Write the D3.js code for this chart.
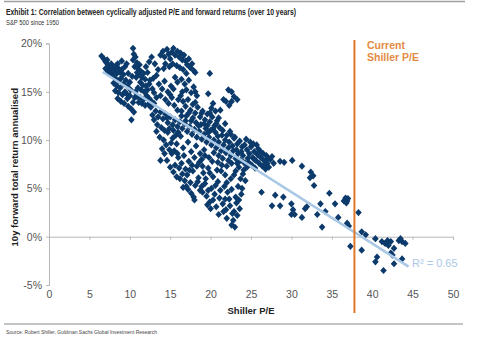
<!DOCTYPE html>
<html>
<head>
<meta charset="utf-8">
<script src="https://cdn.jsdelivr.net/npm/d3@7"></script>
<style>
  html, body { margin: 0; padding: 0; background: #fff; }
  svg { display: block; }
  text { font-family: "Liberation Sans", Arial, sans-serif; }
</style>
</head>
<body>
<svg id="chart" width="494" height="346"></svg>
<script>
// ---------------- data ----------------
const titleText = "Exhibit 1: Correlation between cyclically adjusted P/E and forward returns (over 10 years)";
const subtitleText = "S&P 500 since 1950";
const sourceText = "Source: Robert Shiller, Goldman Sachs Global Investment Research";
const xAxisTitle = "Shiller P/E";
const yAxisTitle = "10y forward total return annualised";
const xTicks = [0, 5, 10, 15, 20, 25, 30, 35, 40, 45, 50];
const yTicks = [-5, 0, 5, 10, 15, 20];
const currentPE = 37.8;
const currentLabel = ["Current", "Shiller P/E"];
const trendPE = [6.65, 44.5];
const trendReturn = [17.05, -3.1];
const r2Label = "R\u00B2 = 0.65";

// [Shiller P/E, 10y forward annualised return %]
const scatterPoints = [
  // low P/E, high return band
  [6.5,18.7],[6.8,18.4],[7.0,18.1],[7.2,18.3],[7.3,17.8],[7.5,17.5],[7.7,17.9],[7.9,17.6],[8.1,17.2],[8.3,17.7],
  [8.5,17.9],[8.6,17.4],[8.8,17.0],[9.0,17.3],[9.2,16.8],[8.9,16.4],[8.6,16.1],[8.2,16.4],[7.9,16.8],[7.6,16.9],
  [7.3,17.1],[8.0,15.9],[8.4,15.6],[8.8,15.4],[9.2,15.8],[9.5,16.2],[9.7,15.6],[9.4,15.0],[9.1,14.7],[8.6,14.9],
  [8.2,15.1],[8.5,14.3],[8.9,14.0],[9.3,13.8],[9.7,14.3],[10.0,14.6],[9.8,13.5],[10.2,13.2],[10.5,12.9],[10.2,12.1],
  [9.0,18.2],[9.4,17.6],[9.8,16.9],[10.0,16.0],[9.6,17.9],[7.0,17.4],[7.8,17.1],[8.4,16.9],[9.6,14.8],[10.4,13.9],
  // column around P/E 10-13
  [10.4,19.5],[10.5,18.9],[10.4,18.3],[10.7,18.6],[10.9,18.0],[10.6,17.6],[11.0,17.4],[11.2,17.8],[11.4,17.1],[11.1,16.8],
  [10.8,16.5],[11.5,16.5],[11.7,16.9],[11.9,16.3],[11.3,16.0],[11.6,15.7],[12.0,15.6],[12.2,15.2],[11.8,15.0],[11.4,15.2],
  [11.0,15.4],[10.7,15.0],[10.9,14.5],[11.3,14.4],[11.7,14.2],[12.1,14.6],[12.4,14.3],[12.7,14.0],[12.3,13.7],[11.9,13.6],
  [11.5,13.8],[11.1,13.9],[12.6,13.4],[13.0,13.8],[13.3,14.4],[13.0,14.9],[12.8,15.3],[13.3,16.7],[12.5,16.2],[12.2,17.0],
  [13.6,15.8],[14.0,15.3],[14.3,16.1],[14.7,15.0],[15.1,15.6],[15.6,16.5],[13.8,14.6],[14.4,14.2],[15.0,14.7],[12.0,17.6],
  [10.6,14.4],[10.1,15.2],[10.3,16.6],[10.9,17.0],[12.4,15.8],[12.9,16.4],[13.5,17.3],[13.1,17.9],[12.7,18.6],[12.4,18.1],
  // top cluster P/E 14-18
  [13.8,18.8],[14.1,19.2],[14.3,18.6],[14.6,19.4],[14.8,18.9],[15.0,18.4],[15.2,19.1],[15.4,19.5],[15.6,18.8],[15.9,19.2],
  [16.1,18.6],[16.3,19.0],[16.5,18.3],[16.7,18.8],[16.9,18.2],[17.1,17.8],[17.3,18.4],[17.5,17.5],[17.7,17.9],[17.9,17.2],
  [18.1,17.0],[14.4,17.9],[14.9,17.6],[15.3,17.9],[15.8,17.7],[16.2,17.5],[16.6,17.3],[17.0,16.9],[17.3,16.2],[14.2,17.4],
  [16.4,16.3],[16.8,15.8],[17.0,15.2],[16.5,15.0],[17.6,14.9],[15.9,16.0],[15.4,15.3],
  // loop P/E 18-23.5
  [19.9,16.9],[17.9,15.5],[18.1,15.0],[18.3,14.6],[19.7,14.8],[22.2,15.2],[22.6,15.0],[22.9,14.5],[22.6,14.0],[23.3,14.2],
  [21.9,14.0],[21.6,14.2],[20.3,13.8],[20.1,13.3],[20.6,13.0],[21.2,13.1],[21.8,11.7],[22.3,13.6],
  // main band along the trend
  [12.8,12.6],[13.2,13.0],[13.5,12.4],[13.8,12.9],[14.1,12.2],[14.4,12.7],[14.7,11.8],[15.0,12.4],[15.3,11.6],[15.6,12.1],
  [15.9,11.4],[16.2,11.9],[16.5,11.2],[16.8,11.7],[17.1,10.9],[17.4,11.4],[17.7,10.6],[18.0,11.1],[18.3,10.3],[18.6,10.9],
  [18.9,10.1],[19.2,10.6],[19.5,9.8],[19.8,10.3],[20.1,9.5],[20.4,10.0],[20.7,9.2],[21.0,9.8],[21.3,8.9],[21.6,9.5],
  [21.9,8.7],[22.2,9.2],[22.5,8.4],[22.8,8.9],[23.1,8.1],[23.4,8.6],[23.7,7.9],[24.0,8.4],[24.3,7.6],[24.6,8.1],
  // above the trend, P/E 12-24
  [16.3,14.6],[16.6,14.0],[16.9,13.5],[17.2,14.2],[17.5,13.1],[17.8,13.7],[18.1,12.8],[18.4,13.4],[18.7,12.4],[19.0,13.0],
  [19.3,12.1],[19.6,12.7],[19.9,11.9],[20.2,12.4],[20.5,11.5],[20.8,12.0],[21.1,11.3],[16.4,13.0],[17.0,12.5],[17.6,12.0],
  [18.2,11.8],[18.8,11.6],[19.4,11.2],[20.0,11.0],[20.6,10.8],[15.5,13.6],[15.9,13.1],[16.0,14.2],[14.8,13.8],[15.2,14.4],
  [21.5,11.0],[22.0,10.5],[22.4,10.9],[22.9,10.2],[23.3,9.6],[23.9,9.3],[24.4,10.1],[23.6,9.9],[23.0,10.3],[22.5,10.6],
  [13.0,12.1],[13.4,11.6],[13.9,11.3],[14.3,11.0],[14.6,12.3],[14.9,11.2],[15.4,11.0],[15.7,10.5],[16.0,10.8],[16.4,12.5],
  [16.9,12.0],[17.3,12.8],[17.8,12.3],[18.1,13.9],[18.5,11.5],[18.9,12.8],[19.2,11.7],[19.6,11.5],[19.9,12.8],[20.3,11.2],
  [20.7,11.7],[21.0,12.3],[21.4,10.5],[21.8,10.0],[22.3,9.8],[22.7,9.4],[23.2,9.0],[23.8,8.8],[20.9,10.4],[19.7,10.8],
  // below the trend, P/E 13-24
  [13.3,10.9],[13.7,10.3],[14.0,9.1],[13.8,7.9],[14.2,10.0],[14.5,9.5],[14.9,9.0],[15.2,8.6],[15.6,7.4],[15.8,6.2],
  [16.2,6.0],[16.0,8.2],[16.4,7.6],[16.7,8.4],[16.9,7.0],[17.1,6.4],[17.3,7.8],[17.5,5.6],[17.6,4.5],[17.9,4.1],
  [17.8,6.8],[18.1,5.3],[18.3,7.3],[18.5,6.1],[18.7,4.8],[18.9,8.0],[19.1,6.6],[19.3,5.5],[19.5,4.2],[19.7,7.1],
  [19.9,3.6],[20.1,5.0],[20.3,6.2],[20.5,4.4],[20.7,3.1],[20.9,5.7],[21.1,4.0],[21.3,6.8],[21.5,3.4],[21.7,5.2],
  [21.9,2.8],[22.1,4.6],[22.3,3.9],[22.5,6.0],[22.7,2.4],[22.8,1.7],[23.0,1.0],[23.2,3.5],[23.4,5.2],[23.6,2.9],
  [23.8,4.4],[24.0,6.5],[14.7,10.8],[15.3,10.2],[15.8,9.6],[16.3,10.4],[16.6,9.2],[17.2,9.8],[17.6,8.8],[18.2,9.4],
  [18.7,8.6],[19.2,9.0],[19.8,8.2],[20.4,8.7],[20.9,7.7],[21.5,8.1],[22.0,7.3],[22.6,7.6],[23.1,6.8],[23.5,7.2],
  [17.0,5.2],[18.0,3.8],[19.0,4.6],[20.0,2.9],[21.0,2.3],[22.0,1.9],[23.3,2.2],[16.6,5.1],[19.6,3.3],[21.8,6.4],
  [14.3,8.6],[14.6,7.9],[15.0,7.2],[15.4,6.7],[15.1,9.7],[15.5,8.9],[15.9,8.6],[16.1,7.1],[16.5,6.5],[16.8,5.8],
  [17.2,4.9],[17.4,6.9],[17.7,7.4],[18.0,8.2],[18.4,5.7],[18.6,7.7],[18.9,5.2],[19.0,7.3],[19.3,8.4],[19.4,6.0],
  [19.7,4.8],[19.9,6.6],[20.2,7.8],[20.3,3.8],[20.6,5.3],[20.8,6.9],[21.0,8.4],[21.2,4.8],[21.4,7.4],[21.6,2.6],
  [21.8,3.9],[22.0,5.6],[22.2,7.9],[22.4,3.2],[22.6,4.9],[22.9,6.4],[23.1,4.1],[23.3,7.6],[23.5,3.8],[23.7,6.0],
  [23.9,5.0],[24.1,7.7],[24.3,5.8],[24.5,7.2],[22.6,1.2],[22.9,2.6],
  // dense cluster P/E 24-28
  [24.5,9.0],[24.8,8.6],[25.0,9.3],[25.2,8.2],[25.4,8.8],[25.6,7.9],[25.8,8.5],[26.0,7.6],[26.2,8.2],[26.4,7.3],
  [26.6,7.9],[26.8,7.0],[27.0,7.6],[27.2,7.2],[27.4,8.0],[27.6,8.3],[25.1,7.4],[25.5,7.1],[24.9,9.8],[24.2,9.5],
  [26.1,8.9],[25.7,9.5],[26.9,8.4],[25.3,9.6],[24.1,6.9],[25.9,9.1],[26.5,8.6],[27.1,8.1],[25.4,8.0],[26.7,7.4],
  [24.7,7.7],[27.8,7.6],
  // high P/E tail
  [28.6,7.8],[29.1,7.7],[30.1,7.9],[31.3,7.3],[32.4,6.7],[32.7,6.3],[32.3,6.1],[32.8,5.3],[26.3,4.6],[28.0,4.3],
  [29.0,4.1],[27.6,3.2],[28.6,3.2],[30.0,3.4],[30.2,2.8],[30.0,2.3],[30.4,2.3],[31.9,3.1],[31.7,2.9],[33.6,3.4],
  [31.3,2.0],[33.2,2.3],[34.7,4.5],[35.4,3.4],[35.8,2.0],[36.5,3.7],[36.7,4.0],[36.9,3.7],[36.8,3.5],[37.0,3.95],
  [33.8,1.0],[34.2,2.6],[37.1,1.1],[36.9,1.4],[38.3,2.5],[38.7,0.5],[39.2,0.2],[37.3,-1.0],[38.7,-1.4],
  [40.4,-0.2],[41.2,-0.5],[41.6,-0.7],[42.0,-0.9],[42.3,-0.5],[41.9,-0.4],[42.7,-1.2],[43.3,-0.4],[43.7,-0.5],[44.1,-0.7],
  [43.5,-0.2],[42.3,-1.7],[42.5,-1.9],[40.6,-2.1],[40.4,-2.6],[43.7,-2.3],[42.7,-2.8],[41.4,-3.5]
];

// ---------------- layout ----------------
const svg = d3.select("#chart");
const x = d3.scaleLinear().domain([0, 50]).range([49, 453]);
const y = d3.scaleLinear().domain([-5, 20]).range([285.0, 43.5]);

const navy = "#0b3a6b";
const axisGrey = "#b7b7b7";
const tickText = "#555";
const orange = "#e0782a";
const trendBlue = "#a9c8e6";

// rules
svg.append("line").attr("x1", 4).attr("x2", 465).attr("y1", 1.5).attr("y2", 1.5)
  .attr("stroke", "#a0a0a0").attr("stroke-width", 1.5);
svg.append("line").attr("x1", 4).attr("x2", 463).attr("y1", 324).attr("y2", 324)
  .attr("stroke", "#b0b0b0").attr("stroke-width", 1.5);

// titles
svg.append("text").attr("x", 6).attr("y", 15).attr("font-size", 9).attr("font-weight", "bold")
  .attr("fill", "#222").attr("textLength", 290).attr("lengthAdjust", "spacingAndGlyphs").text(titleText);
svg.append("text").attr("x", 6).attr("y", 25).attr("font-size", 7.5)
  .attr("fill", "#333").attr("textLength", 53).attr("lengthAdjust", "spacingAndGlyphs").text(subtitleText);
svg.append("text").attr("x", 6).attr("y", 334).attr("font-size", 6)
  .attr("fill", "#444").attr("textLength", 151).attr("lengthAdjust", "spacingAndGlyphs").text(sourceText);

// y axis
const yAxis = d3.axisLeft(y).tickValues(yTicks).tickSize(3).tickPadding(4)
  .tickFormat(d => d + "%");
const gy = svg.append("g").attr("transform", `translate(${x(0)},0)`).call(yAxis);
gy.select(".domain").attr("stroke", axisGrey);
gy.selectAll(".tick line").attr("stroke", axisGrey);
gy.selectAll(".tick text").attr("fill", tickText).attr("font-size", 10.5)
  .attr("font-family", "'Liberation Sans', Arial, sans-serif");

// x axis (line at 0%, labels at the bottom)
const xAxisLine = d3.axisBottom(x).tickValues(xTicks).tickSize(3).tickFormat("");
const gx = svg.append("g").attr("transform", `translate(0,${y(0)})`).call(xAxisLine);
gx.select(".domain").attr("stroke", axisGrey);
gx.selectAll(".tick line").attr("stroke", axisGrey);

const xLabels = d3.axisBottom(x).tickValues(xTicks).tickSize(0).tickPadding(0);
const gxl = svg.append("g").attr("transform", `translate(0,${y(-5) + 6})`).call(xLabels);
gxl.select(".domain").remove();
gxl.selectAll(".tick text").attr("fill", tickText).attr("font-size", 10.5)
  .attr("font-family", "'Liberation Sans', Arial, sans-serif");

// axis titles
svg.append("text").attr("x", 251).attr("y", 314).attr("text-anchor", "middle")
  .attr("font-size", 9.5).attr("font-weight", "bold").attr("fill", "#222").text(xAxisTitle);
svg.append("text").attr("transform", `translate(18,${(y(-5) + y(20)) / 2 + 3}) rotate(-90)`)
  .attr("text-anchor", "middle").attr("font-size", 9.5).attr("font-weight", "bold")
  .attr("fill", "#222").text(yAxisTitle);

// scatter diamonds
const diamond = "M0,-3.6L3.3,0L0,3.6L-3.3,0Z";
svg.append("g").selectAll("path").data(scatterPoints).join("path")
  .attr("d", diamond)
  .attr("transform", d => `translate(${x(d[0])},${y(d[1])})`)
  .attr("fill", navy);

// trend line
svg.append("line")
  .attr("x1", x(trendPE[0])).attr("y1", y(trendReturn[0]))
  .attr("x2", x(trendPE[1])).attr("y2", y(trendReturn[1]))
  .attr("stroke", trendBlue).attr("stroke-width", 2.5);

// current Shiller P/E line
svg.append("line").attr("x1", x(currentPE)).attr("x2", x(currentPE))
  .attr("y1", 40).attr("y2", 313).attr("stroke", orange).attr("stroke-width", 2);
svg.append("text").attr("x", 367).attr("y", 49).attr("font-size", 10.5).attr("font-weight", "bold")
  .attr("fill", "#e38a44")
  .selectAll("tspan").data(currentLabel).join("tspan")
  .attr("x", 367).attr("dy", (d, i) => i === 0 ? 0 : 12).text(d => d);

// R² label
svg.append("text").attr("x", 412).attr("y", 267).attr("font-size", 11)
  .attr("fill", "#a9c8e6").text(r2Label);
</script>
</body>
</html>
